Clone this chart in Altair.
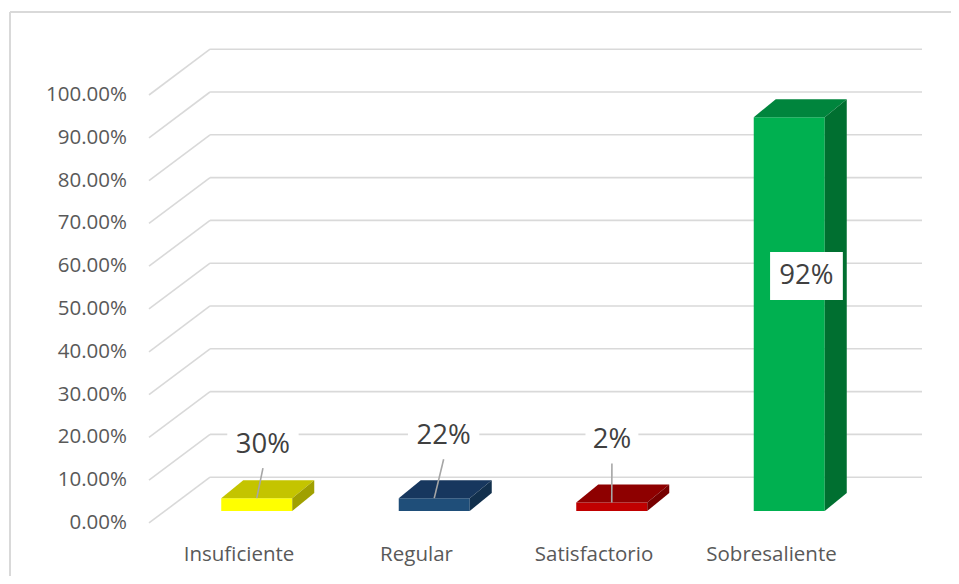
import altair as alt
import pandas as pd

# ---------------- data ----------------
categories = ["Insuficiente", "Regular", "Satisfactorio", "Sobresaliente"]
bar_values = [3, 3, 2, 92]              # bar heights (percent) as drawn
bar_labels = ["30%", "22%", "2%", "92%"]  # data-label texts as printed
tick_values = [0, 10, 20, 30, 40, 50, 60, 70, 80, 90, 100]
tick_labels = ["0.00%", "10.00%", "20.00%", "30.00%", "40.00%", "50.00%",
               "60.00%", "70.00%", "80.00%", "90.00%", "100.00%"]

# ---------------- styles ----------------
front_colors = ["#FFFF00", "#1F4E79", "#C00000", "#00B050"]
top_colors = ["#C4C400", "#17375E", "#8E0000", "#00853D"]
side_colors = ["#A0A000", "#12304D", "#760000", "#006F30"]
GRID = "#D9D9D9"
TEXT = "#595959"
LABEL_TEXT = "#404040"
FONT = "Open Sans"

# ---------------- layout (data units) ----------------
W, H = 941, 564
XMIN, XMAX = -1.2901, 4.0113
YMIN, YMAX = -12.39, 119.39
WALL_LEFT, WALL_RIGHT = -0.507, 3.848
WALL_DX, WALL_DY = 0.344, 10.7
BAR_LEFT, BAR_W, BAR_BASE = -0.10, 0.40, 2.8
DEPTH_DX, DEPTH_DY = 0.124, 4.2
YLABEL_X = -0.631
XLABEL_Y = -7.48
label_du = [0.135, 0.153, 0.101, 0.197]
label_v = [18.2, 20.3, 19.3, 57.7]
LEADER_GAP = 5.4
LABEL_BOX_HALF_H = 4.0
INNER_BOX_HALF_W, INNER_BOX_HALF_H = 0.205, 5.6

xs = alt.Scale(domain=[XMIN, XMAX], nice=False, zero=False)
ys = alt.Scale(domain=[YMIN, YMAX], nice=False, zero=False)


def X(f):
    return alt.X(f, type="quantitative", scale=xs, axis=None, stack=None)


def Y(f):
    return alt.Y(f, type="quantitative", scale=ys, axis=None, stack=None)


# ---------------- frames ----------------
ticks_df = pd.DataFrame({
    "v": tick_values,
    "label": tick_labels,
})
ticks_df["vb"] = ticks_df["v"] + WALL_DY
ticks_df["xl"] = WALL_LEFT
ticks_df["xb"] = WALL_LEFT + WALL_DX
ticks_df["xr"] = WALL_RIGHT
ticks_df["xt"] = YLABEL_X

n = len(categories)
bars_df = pd.DataFrame({
    "cat": categories,
    "u": list(range(n)),
    "h": bar_values,
    "label": bar_labels,
    "front": front_colors,
    "topc": top_colors,
    "sidec": side_colors,
})
bars_df["base"] = BAR_BASE
bars_df["top"] = BAR_BASE + bars_df["h"]
bars_df["x0"] = bars_df["u"] + BAR_LEFT
bars_df["x1"] = bars_df["x0"] + BAR_W
bars_df["xc"] = (bars_df["x0"] + bars_df["x1"]) / 2
bars_df["lu"] = bars_df["u"] + pd.Series(label_du)
bars_df["lv"] = pd.Series(label_v)
bars_df["ly"] = XLABEL_Y

top_rows = []
side_rows = []
for r in bars_df.to_dict("records"):
    top_rows.append({"cat": r["cat"], "c": r["topc"], "y": r["top"],
                     "x": r["x0"], "x2": r["x1"]})
    top_rows.append({"cat": r["cat"], "c": r["topc"], "y": r["top"] + DEPTH_DY,
                     "x": r["x0"] + DEPTH_DX, "x2": r["x1"] + DEPTH_DX})
    side_rows.append({"cat": r["cat"], "c": r["sidec"], "x": r["x1"],
                      "y": r["base"], "y2": r["top"]})
    side_rows.append({"cat": r["cat"], "c": r["sidec"], "x": r["x1"] + DEPTH_DX,
                      "y": r["base"] + DEPTH_DY, "y2": r["top"] + DEPTH_DY})
top_df = pd.DataFrame(top_rows)
side_df = pd.DataFrame(side_rows)

outside = bars_df.iloc[:3].copy()
outside["hw"] = 0.045 + 0.052 * outside["label"].str.len()
outside["bx0"] = outside["lu"] - outside["hw"]
outside["bx1"] = outside["lu"] + outside["hw"]
outside["by0"] = outside["lv"] - LABEL_BOX_HALF_H
outside["by1"] = outside["lv"] + LABEL_BOX_HALF_H
outside["ls"] = outside["lv"] - LEADER_GAP

inside = bars_df.iloc[3:].copy()
inside["bx0"] = inside["lu"] - INNER_BOX_HALF_W
inside["bx1"] = inside["lu"] + INNER_BOX_HALF_W
inside["by0"] = inside["lv"] - INNER_BOX_HALF_H
inside["by1"] = inside["lv"] + INNER_BOX_HALF_H

frame_df = pd.DataFrame({"x0": [XMIN], "x1": [XMAX], "y0": [YMIN], "y1": [YMAX]})

# ---------------- layers ----------------
back_grid = alt.Chart(ticks_df).mark_rule(color=GRID, strokeWidth=1.6).encode(
    x=X("xb"), x2="xr", y=Y("vb"))
diag_grid = alt.Chart(ticks_df).mark_rule(color=GRID, strokeWidth=1.6).encode(
    x=X("xl"), y=Y("v"), x2="xb", y2="vb")
ylab = alt.Chart(ticks_df).mark_text(
    align="right", baseline="middle", font=FONT, fontSize=20.5, color=TEXT
).encode(x=X("xt"), y=Y("v"), text="label:N")

label_boxes = alt.Chart(outside).mark_rect(color="white").encode(
    x=X("bx0"), x2="bx1", y=Y("by0"), y2="by1")

front = alt.Chart(bars_df).mark_rect().encode(
    x=X("x0"), x2="x1", y=Y("base"), y2="top",
    color=alt.Color("front:N", scale=None))
topf = alt.Chart(top_df).mark_area(orient="horizontal").encode(
    y=Y("y"), x=X("x"), x2="x2", detail="cat:N",
    color=alt.Color("c:N", scale=None))
sidef = alt.Chart(side_df).mark_area(orient="vertical").encode(
    x=X("x"), y=Y("y"), y2="y2", detail="cat:N",
    color=alt.Color("c:N", scale=None))

leaders = alt.Chart(outside).mark_rule(color="#A6A6A6", strokeWidth=1.6).encode(
    x=X("lu"), y=Y("ls"), x2="xc", y2="top")
out_text = alt.Chart(outside).mark_text(
    font=FONT, fontSize=27.5, color=LABEL_TEXT, baseline="middle", align="center"
).encode(x=X("lu"), y=Y("lv"), text="label:N")

in_box = alt.Chart(inside).mark_rect(color="white").encode(
    x=X("bx0"), x2="bx1", y=Y("by0"), y2="by1")
in_text = alt.Chart(inside).mark_text(
    font=FONT, fontSize=27.5, color=LABEL_TEXT, baseline="middle", align="center"
).encode(x=X("lu"), y=Y("lv"), text="label:N")

xlab = alt.Chart(bars_df).mark_text(
    font=FONT, fontSize=20.5, color=TEXT, baseline="middle", align="center"
).encode(x=X("u"), y=Y("ly"), text="cat:N")

frame_left = alt.Chart(frame_df).mark_rule(color=GRID, strokeWidth=2).encode(
    x=X("x0"), y=Y("y0"), y2="y1")
frame_top = alt.Chart(frame_df).mark_rule(color=GRID, strokeWidth=2).encode(
    x=X("x0"), x2="x1", y=Y("y1"))

chart = alt.layer(
    back_grid, diag_grid, ylab, label_boxes, front, topf, sidef,
    leaders, out_text, in_box, in_text, xlab, frame_left, frame_top
).properties(
    width=W, height=H,
    padding={"left": 2, "top": 4, "right": 0, "bottom": 0},
    autosize=alt.AutoSizeParams(type="none"),
).configure(background="white").configure_view(strokeOpacity=0, strokeWidth=0)

chart.save("out.html", embed_options={"renderer": "svg", "actions": False})
